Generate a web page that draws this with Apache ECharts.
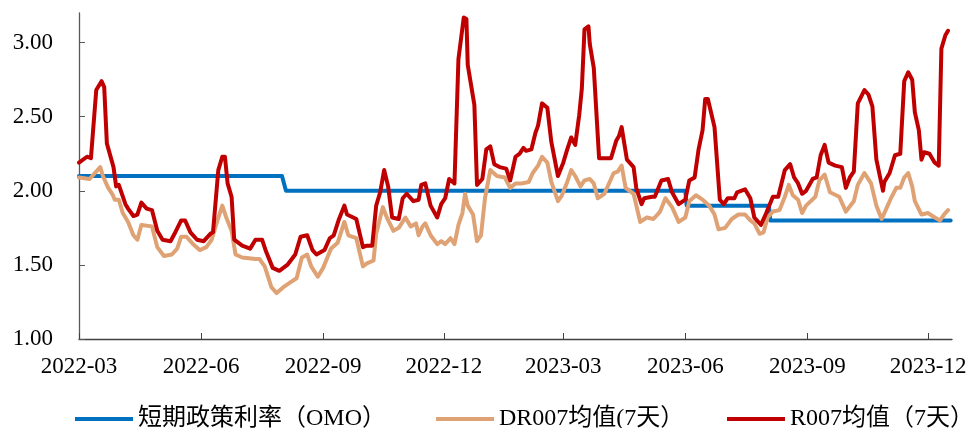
<!DOCTYPE html>
<html>
<head>
<meta charset="utf-8">
<script src="https://cdn.jsdelivr.net/npm/echarts@6/dist/echarts.min.js"></script>
<style>
  html, body { margin: 0; padding: 0; background: #ffffff; }
  #chart { width: 971px; height: 428px; }
</style>
</head>
<body>
<div id="chart"></div>
<script>
// Legend names, tick labels and the three rate series (date, %)
const seriesNames = ['短期政策利率（OMO）', 'DR007均值(7天）', 'R007均值（7天）'];
const xTickLabels = ['2022-03', '2022-06', '2022-09', '2022-12', '2023-03', '2023-06', '2023-09', '2023-12'];
const yTicks = [1.00, 1.50, 2.00, 2.50, 3.00];

const omo = [
  ['2022-03-01', 2.10], ['2022-08-01', 2.10], ['2022-08-04', 2.00],
  ['2023-06-01', 2.00], ['2023-06-02', 1.90], ['2023-08-03', 1.90],
  ['2023-08-04', 1.80], ['2023-12-18', 1.80]
];

const dr007 = [
  ['2022-03-01', 2.09], ['2022-03-09', 2.08], ['2022-03-17', 2.16], ['2022-03-19', 2.10],
  ['2022-03-23', 2.02], ['2022-03-26', 1.98], ['2022-03-28', 1.94], ['2022-03-31', 1.94],
  ['2022-04-03', 1.85], ['2022-04-07', 1.79], ['2022-04-11', 1.70], ['2022-04-14', 1.67],
  ['2022-04-17', 1.77], ['2022-04-25', 1.76], ['2022-04-29', 1.62], ['2022-05-04', 1.56],
  ['2022-05-10', 1.57], ['2022-05-14', 1.61], ['2022-05-17', 1.69], ['2022-05-21', 1.69],
  ['2022-05-26', 1.64], ['2022-05-31', 1.60], ['2022-06-05', 1.62], ['2022-06-09', 1.67],
  ['2022-06-13', 1.79], ['2022-06-17', 1.90], ['2022-06-20', 1.82], ['2022-06-24', 1.73],
  ['2022-06-27', 1.57], ['2022-07-02', 1.55], ['2022-07-12', 1.54], ['2022-07-15', 1.54],
  ['2022-07-19', 1.49], ['2022-07-24', 1.35], ['2022-07-28', 1.31], ['2022-08-02', 1.35],
  ['2022-08-07', 1.38], ['2022-08-12', 1.41], ['2022-08-16', 1.55], ['2022-08-20', 1.57],
  ['2022-08-23', 1.49], ['2022-08-28', 1.42], ['2022-09-01', 1.48], ['2022-09-07', 1.61],
  ['2022-09-12', 1.65], ['2022-09-17', 1.79], ['2022-09-20', 1.70], ['2022-09-26', 1.68],
  ['2022-10-01', 1.49], ['2022-10-04', 1.51], ['2022-10-09', 1.53], ['2022-10-11', 1.71],
  ['2022-10-16', 1.89], ['2022-10-19', 1.82], ['2022-10-24', 1.73], ['2022-10-28', 1.75],
  ['2022-11-02', 1.82], ['2022-11-06', 1.76], ['2022-11-10', 1.78], ['2022-11-12', 1.70],
  ['2022-11-15', 1.76], ['2022-11-17', 1.78], ['2022-11-21', 1.70], ['2022-11-26', 1.64],
  ['2022-11-29', 1.66], ['2022-12-02', 1.64], ['2022-12-06', 1.68], ['2022-12-09', 1.64],
  ['2022-12-12', 1.77], ['2022-12-15', 1.85], ['2022-12-17', 1.98], ['2022-12-19', 1.90],
  ['2022-12-23', 1.84], ['2022-12-26', 1.66], ['2022-12-29', 1.70], ['2023-01-01', 1.95],
  ['2023-01-05', 2.14], ['2023-01-10', 2.10], ['2023-01-16', 2.09], ['2023-01-20', 2.02],
  ['2023-01-24', 2.05], ['2023-01-29', 2.05], ['2023-02-03', 2.06], ['2023-02-06', 2.12],
  ['2023-02-10', 2.17], ['2023-02-13', 2.23], ['2023-02-17', 2.19], ['2023-02-20', 2.06],
  ['2023-02-25', 1.93], ['2023-02-28', 1.97], ['2023-03-04', 2.06], ['2023-03-07', 2.14],
  ['2023-03-10', 2.10], ['2023-03-14', 2.03], ['2023-03-17', 2.07], ['2023-03-21', 2.08],
  ['2023-03-24', 2.05], ['2023-03-27', 1.95], ['2023-04-01', 1.98], ['2023-04-08', 2.12],
  ['2023-04-11', 2.13], ['2023-04-14', 2.17], ['2023-04-17', 2.02], ['2023-04-23', 1.98],
  ['2023-04-28', 1.79], ['2023-05-03', 1.82], ['2023-05-08', 1.81], ['2023-05-13', 1.86],
  ['2023-05-17', 1.95], ['2023-05-22', 1.89], ['2023-05-27', 1.79], ['2023-06-01', 1.82],
  ['2023-06-04', 1.93], ['2023-06-09', 1.97], ['2023-06-14', 1.94], ['2023-06-19', 1.90],
  ['2023-06-23', 1.84], ['2023-06-26', 1.74], ['2023-07-01', 1.75], ['2023-07-06', 1.81],
  ['2023-07-11', 1.84], ['2023-07-16', 1.84], ['2023-07-20', 1.80], ['2023-07-23', 1.78],
  ['2023-07-27', 1.71], ['2023-07-30', 1.72], ['2023-08-02', 1.82], ['2023-08-06', 1.86],
  ['2023-08-11', 1.87], ['2023-08-15', 1.96], ['2023-08-18', 2.04], ['2023-08-21', 1.97],
  ['2023-08-25', 1.94], ['2023-08-28', 1.85], ['2023-08-31', 1.90], ['2023-09-07', 1.96],
  ['2023-09-10', 2.07], ['2023-09-14', 2.11], ['2023-09-18', 1.99], ['2023-09-25', 1.96],
  ['2023-09-30', 1.86], ['2023-10-06', 1.93], ['2023-10-09', 2.04], ['2023-10-14', 2.12],
  ['2023-10-19', 2.05], ['2023-10-23', 1.90], ['2023-10-27', 1.81], ['2023-10-31', 1.89],
  ['2023-11-03', 1.95], ['2023-11-07', 2.02], ['2023-11-10', 2.02], ['2023-11-13', 2.09],
  ['2023-11-16', 2.12], ['2023-11-19', 2.03], ['2023-11-21', 1.93], ['2023-11-26', 1.84],
  ['2023-12-01', 1.85], ['2023-12-06', 1.82], ['2023-12-10', 1.80], ['2023-12-13', 1.84],
  ['2023-12-16', 1.87]
];

const r007 = [
  ['2022-03-01', 2.19], ['2022-03-07', 2.23], ['2022-03-10', 2.22], ['2022-03-14', 2.68],
  ['2022-03-18', 2.74], ['2022-03-20', 2.70], ['2022-03-22', 2.32], ['2022-03-27', 2.16],
  ['2022-03-29', 2.03], ['2022-03-31', 2.04], ['2022-04-05', 1.91], ['2022-04-07', 1.88],
  ['2022-04-11', 1.83], ['2022-04-14', 1.84], ['2022-04-17', 1.92], ['2022-04-21', 1.88],
  ['2022-04-25', 1.87], ['2022-04-29', 1.73], ['2022-05-03', 1.67], ['2022-05-09', 1.66],
  ['2022-05-12', 1.71], ['2022-05-17', 1.80], ['2022-05-20', 1.80], ['2022-05-24', 1.72],
  ['2022-05-29', 1.67], ['2022-06-03', 1.66], ['2022-06-08', 1.71], ['2022-06-10', 1.72],
  ['2022-06-14', 2.14], ['2022-06-17', 2.23], ['2022-06-19', 2.23], ['2022-06-21', 2.05],
  ['2022-06-24', 1.96], ['2022-06-26', 1.67], ['2022-07-02', 1.63], ['2022-07-08', 1.61],
  ['2022-07-12', 1.67], ['2022-07-17', 1.67], ['2022-07-20', 1.59], ['2022-07-25', 1.48],
  ['2022-07-30', 1.46], ['2022-08-05', 1.50], ['2022-08-11', 1.57], ['2022-08-15', 1.69],
  ['2022-08-20', 1.70], ['2022-08-24', 1.60], ['2022-08-27', 1.57], ['2022-09-02', 1.60],
  ['2022-09-06', 1.68], ['2022-09-09', 1.70], ['2022-09-13', 1.81], ['2022-09-17', 1.90],
  ['2022-09-19', 1.84], ['2022-09-26', 1.81], ['2022-10-01', 1.62], ['2022-10-04', 1.63],
  ['2022-10-08', 1.63], ['2022-10-11', 1.90], ['2022-10-14', 1.99], ['2022-10-17', 2.14],
  ['2022-10-20', 2.03], ['2022-10-23', 1.82], ['2022-10-28', 1.81], ['2022-10-31', 1.95],
  ['2022-11-03', 1.98], ['2022-11-08', 1.93], ['2022-11-12', 1.94], ['2022-11-14', 2.04],
  ['2022-11-17', 2.05], ['2022-11-21', 1.90], ['2022-11-26', 1.82], ['2022-11-29', 1.91],
  ['2022-12-02', 1.95], ['2022-12-05', 2.08], ['2022-12-09', 2.05], ['2022-12-12', 2.89],
  ['2022-12-14', 3.03], ['2022-12-16', 3.17], ['2022-12-18', 3.16], ['2022-12-19', 2.85],
  ['2022-12-24', 2.58], ['2022-12-26', 2.04], ['2022-12-30', 2.08], ['2023-01-02', 2.28],
  ['2023-01-05', 2.30], ['2023-01-08', 2.18], ['2023-01-12', 2.16], ['2023-01-17', 2.15],
  ['2023-01-20', 2.07], ['2023-01-24', 2.23], ['2023-01-27', 2.25], ['2023-01-30', 2.29],
  ['2023-02-01', 2.27], ['2023-02-05', 2.28], ['2023-02-08', 2.39], ['2023-02-10', 2.44],
  ['2023-02-13', 2.59], ['2023-02-17', 2.56], ['2023-02-20', 2.33], ['2023-02-25', 2.10],
  ['2023-03-01', 2.19], ['2023-03-04', 2.28], ['2023-03-07', 2.36], ['2023-03-10', 2.31],
  ['2023-03-13', 2.51], ['2023-03-15', 2.69], ['2023-03-17', 3.09], ['2023-03-20', 3.11],
  ['2023-03-21', 2.99], ['2023-03-24', 2.83], ['2023-03-28', 2.22], ['2023-04-06', 2.22],
  ['2023-04-10', 2.34], ['2023-04-12', 2.37], ['2023-04-14', 2.43], ['2023-04-18', 2.21],
  ['2023-04-23', 2.16], ['2023-04-25', 2.02], ['2023-04-29', 1.91], ['2023-05-01', 1.95],
  ['2023-05-07', 1.96], ['2023-05-09', 1.96], ['2023-05-14', 2.07], ['2023-05-19', 2.08],
  ['2023-05-22', 1.99], ['2023-05-27', 1.91], ['2023-06-01', 1.94], ['2023-06-04', 2.07],
  ['2023-06-08', 2.09], ['2023-06-11', 2.28], ['2023-06-14', 2.41], ['2023-06-16', 2.62],
  ['2023-06-18', 2.62], ['2023-06-23', 2.43], ['2023-06-27', 1.94], ['2023-06-30', 1.91],
  ['2023-07-03', 1.95], ['2023-07-08', 1.95], ['2023-07-10', 1.99], ['2023-07-16', 2.01],
  ['2023-07-20', 1.95], ['2023-07-23', 1.82], ['2023-07-28', 1.77], ['2023-08-01', 1.85],
  ['2023-08-06', 1.96], ['2023-08-10', 1.96], ['2023-08-15', 2.14], ['2023-08-19', 2.18],
  ['2023-08-22', 2.09], ['2023-08-25', 2.05], ['2023-08-28', 1.98], ['2023-08-31', 2.00],
  ['2023-09-05', 2.08], ['2023-09-08', 2.09], ['2023-09-11', 2.24], ['2023-09-14', 2.31],
  ['2023-09-17', 2.19], ['2023-09-22', 2.17], ['2023-09-27', 2.16], ['2023-09-30', 2.02],
  ['2023-10-03', 2.09], ['2023-10-06', 2.13], ['2023-10-09', 2.59], ['2023-10-14', 2.68],
  ['2023-10-17', 2.65], ['2023-10-20', 2.57], ['2023-10-23', 2.21], ['2023-10-28', 2.00],
  ['2023-10-29', 2.06], ['2023-11-02', 2.12], ['2023-11-06', 2.24], ['2023-11-10', 2.25],
  ['2023-11-13', 2.74], ['2023-11-16', 2.80], ['2023-11-19', 2.75], ['2023-11-21', 2.53],
  ['2023-11-24', 2.41], ['2023-11-26', 2.21], ['2023-11-28', 2.26], ['2023-12-02', 2.25],
  ['2023-12-06', 2.19], ['2023-12-09', 2.17], ['2023-12-11', 2.96], ['2023-12-14', 3.05],
  ['2023-12-16', 3.08]
];

// Dates are handled as UTC timestamps on a numeric axis
const toTime = s => Date.parse((s.length === 7 ? s + '-01' : s) + 'T00:00:00Z');
const pad2 = n => (n < 10 ? '0' : '') + n;
const fmtMonth = t => { const d = new Date(t); return d.getUTCFullYear() + '-' + pad2(d.getUTCMonth() + 1); };
const toPoints = arr => arr.map(([d, v]) => [toTime(d), v]);

const serifFont = '"Liberation Serif", "Times New Roman", "Noto Sans CJK SC", serif';
const colors = ['#0070C0', '#DFA274', '#C00000'];
const xTicks = xTickLabels.map(toTime);

// One legend block per series so each entry sits at its own position along the bottom
const legendLefts = [70, 431, 722];
const legends = seriesNames.map((name, i) => ({
  data: [name],
  left: legendLefts[i],
  top: 402,
  icon: 'rect',
  itemWidth: 58,
  itemHeight: 4,
  textStyle: { fontFamily: serifFont, fontSize: 24, color: '#000000' }
}));

const chart = echarts.init(document.getElementById('chart'), null, { renderer: 'canvas' });
chart.setOption({
  animation: false,
  backgroundColor: '#ffffff',
  grid: { left: 79, right: 19, top: 13, bottom: 89, containLabel: false },
  legend: legends,
  xAxis: {
    type: 'value',
    min: toTime('2022-03-01'),
    max: toTime('2023-12-19'),
    axisLine: { show: true, lineStyle: { color: '#404040', width: 1.3 } },
    axisTick: { show: true, inside: true, length: 6, customValues: xTicks, lineStyle: { color: '#404040' } },
    axisLabel: {
      customValues: xTicks,
      formatter: v => fmtMonth(v),
      fontFamily: serifFont, fontSize: 23, color: '#000000', margin: 16
    },
    splitLine: { show: false }
  },
  yAxis: {
    type: 'value',
    min: 1,
    max: 3.2,
    axisLine: { show: true, lineStyle: { color: '#595959', width: 1.3 } },
    axisTick: { show: true, inside: true, length: 6, customValues: yTicks, lineStyle: { color: '#595959' } },
    axisLabel: {
      customValues: yTicks,
      formatter: v => v.toFixed(2),
      fontFamily: serifFont, fontSize: 23, color: '#000000', margin: 26
    },
    splitLine: { show: false }
  },
  series: [
    { name: seriesNames[0], data: toPoints(omo), color: colors[0] },
    { name: seriesNames[1], data: toPoints(dr007), color: colors[1] },
    { name: seriesNames[2], data: toPoints(r007), color: colors[2] }
  ].map(s => Object.assign({
    type: 'line',
    showSymbol: false,
    symbol: 'none',
    smooth: false,
    lineStyle: { width: 4, color: s.color, join: 'round', cap: 'round' },
    itemStyle: { color: s.color }
  }, s))
});
</script>
</body>
</html>
